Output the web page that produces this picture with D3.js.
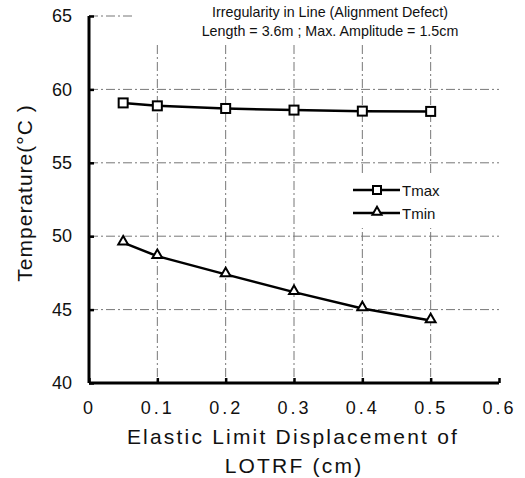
<html>
<meta charset="utf-8">
<style>
body{margin:0;background:#fff;}
text{font-family:"Liberation Sans",Arial,sans-serif;fill:#111;}
.grid line{stroke:#777;stroke-width:1;stroke-dasharray:9,3,2,3;}
.tick text{font-size:18px;}
</style>
<body>
<script src="https://d3js.org/d3.v7.min.js"></script>
<script>

var xVals=[0.05,0.1,0.2,0.3,0.4,0.5];
var tmax=[59.08,58.88,58.70,58.59,58.52,58.50];
var tmin=[49.56,48.64,47.40,46.19,45.08,44.26];
var xTicks=[0,0.1,0.2,0.3,0.4,0.5,0.6];
var yTicks=[40,45,50,55,60,65];

var svg=d3.select("body").append("svg").attr("width",525).attr("height",478);
var x=d3.scaleLinear().domain([0,0.6]).range([89,499]);
var y=d3.scaleLinear().domain([40,65]).range([383,16]);

// grid
var grid=svg.append("g").attr("class","grid");
grid.selectAll(".h").data([45,50,55,60]).enter().append("line")
	.attr("x1",x(0)).attr("x2",x(0.6)).attr("y1",d=>y(d)).attr("y2",d=>y(d));
grid.append("line").attr("x1",x(0)).attr("x2",135).attr("y1",y(65)).attr("y2",y(65));
grid.selectAll(".v").data([0.1,0.2,0.3,0.4,0.5]).enter().append("line")
	.attr("x1",d=>x(d)).attr("x2",d=>x(d)).attr("y1",45).attr("y2",y(40));

// white box behind legend
svg.append("rect").attr("x",346).attr("y",176).attr("width",130).attr("height",52).attr("fill","#fff");

// axes
var xAxis=d3.axisBottom(x).tickValues(xTicks).tickSize(-5).tickPadding(18)
	.tickFormat(d=>d==0?"0":d3.format(".1f")(d));
var gx=svg.append("g").attr("transform","translate(0,"+y(40)+")").call(xAxis);
gx.select(".domain").attr("stroke","#000").attr("stroke-width",3).attr("d","M"+x(0)+",0H"+x(0.6));
gx.selectAll(".tick line").attr("stroke","#000").attr("stroke-width",2.5);
gx.selectAll(".tick text").attr("letter-spacing","3px").attr("dy","0.71em");

var yAxis=d3.axisLeft(y).tickValues(yTicks).tickSize(-5).tickPadding(17);
var gy=svg.append("g").attr("transform","translate("+x(0)+",0)").call(yAxis);
gy.select(".domain").attr("stroke","#000").attr("stroke-width",3).attr("d","M0,"+y(65)+"V"+y(40));
gy.selectAll(".tick line").attr("stroke","#000").attr("stroke-width",2.5);

// lines
var line=d3.line().x((d,i)=>x(xVals[i])).y(d=>y(d));
svg.append("path").datum(tmax).attr("d",line).attr("fill","none").attr("stroke","#000").attr("stroke-width",2.5);
svg.append("path").datum(tmin).attr("d",line).attr("fill","none").attr("stroke","#000").attr("stroke-width",2.5);

svg.selectAll(".sq").data(tmax).enter().append("rect")
	.attr("x",(d,i)=>x(xVals[i])-4.5).attr("y",d=>y(d)-4.5).attr("width",9).attr("height",9)
	.attr("fill","#fff").attr("stroke","#000").attr("stroke-width",2);
var tri=d3.symbol().type(d3.symbolTriangle).size(42);
svg.selectAll(".tri").data(tmin).enter().append("path")
	.attr("d",tri).attr("transform",(d,i)=>"translate("+x(xVals[i])+","+(y(d)-1)+")")
	.attr("fill","#fff").attr("stroke","#000").attr("stroke-width",2);

// legend
var leg=svg.append("g").attr("transform","translate(353,190)");
leg.append("line").attr("x1",0).attr("x2",47).attr("y1",0).attr("y2",0).attr("stroke","#000").attr("stroke-width",2.5);
leg.append("rect").attr("x",20).attr("y",-4).attr("width",8).attr("height",8).attr("fill","#fff").attr("stroke","#000").attr("stroke-width",2);
leg.append("text").attr("x",49).attr("y",5.5).attr("font-size",15).text("Tmax");
leg.append("line").attr("x1",0).attr("x2",47).attr("y1",23).attr("y2",23).attr("stroke","#000").attr("stroke-width",2.5);
leg.append("path").attr("d",d3.symbol().type(d3.symbolTriangle).size(36)).attr("transform","translate(24,22)")
	.attr("fill","#fff").attr("stroke","#000").attr("stroke-width",2);
leg.append("text").attr("x",49).attr("y",28.5).attr("font-size",15).text("Tmin");

// titles
svg.append("text").attr("x",330).attr("y",17).attr("text-anchor","middle").attr("font-size",14.3)
	.text("Irregularity in Line (Alignment Defect)");
svg.append("text").attr("x",330).attr("y",36).attr("text-anchor","middle").attr("font-size",14.3)
	.text("Length = 3.6m ; Max. Amplitude = 1.5cm");

svg.append("text").attr("x",293).attr("y",444).attr("text-anchor","middle").attr("font-size",21).attr("letter-spacing","2.2px")
	.text("Elastic Limit Displacement of");
svg.append("text").attr("x",294).attr("y",473).attr("text-anchor","middle").attr("font-size",21).attr("letter-spacing","2.2px")
	.text("LOTRF (cm)");
svg.append("text").attr("transform","translate(32,193) rotate(-90)").attr("text-anchor","middle").attr("font-size",21).attr("letter-spacing","1px")
	.text("Temperature(°C )");

</script>
</body>
</html>
